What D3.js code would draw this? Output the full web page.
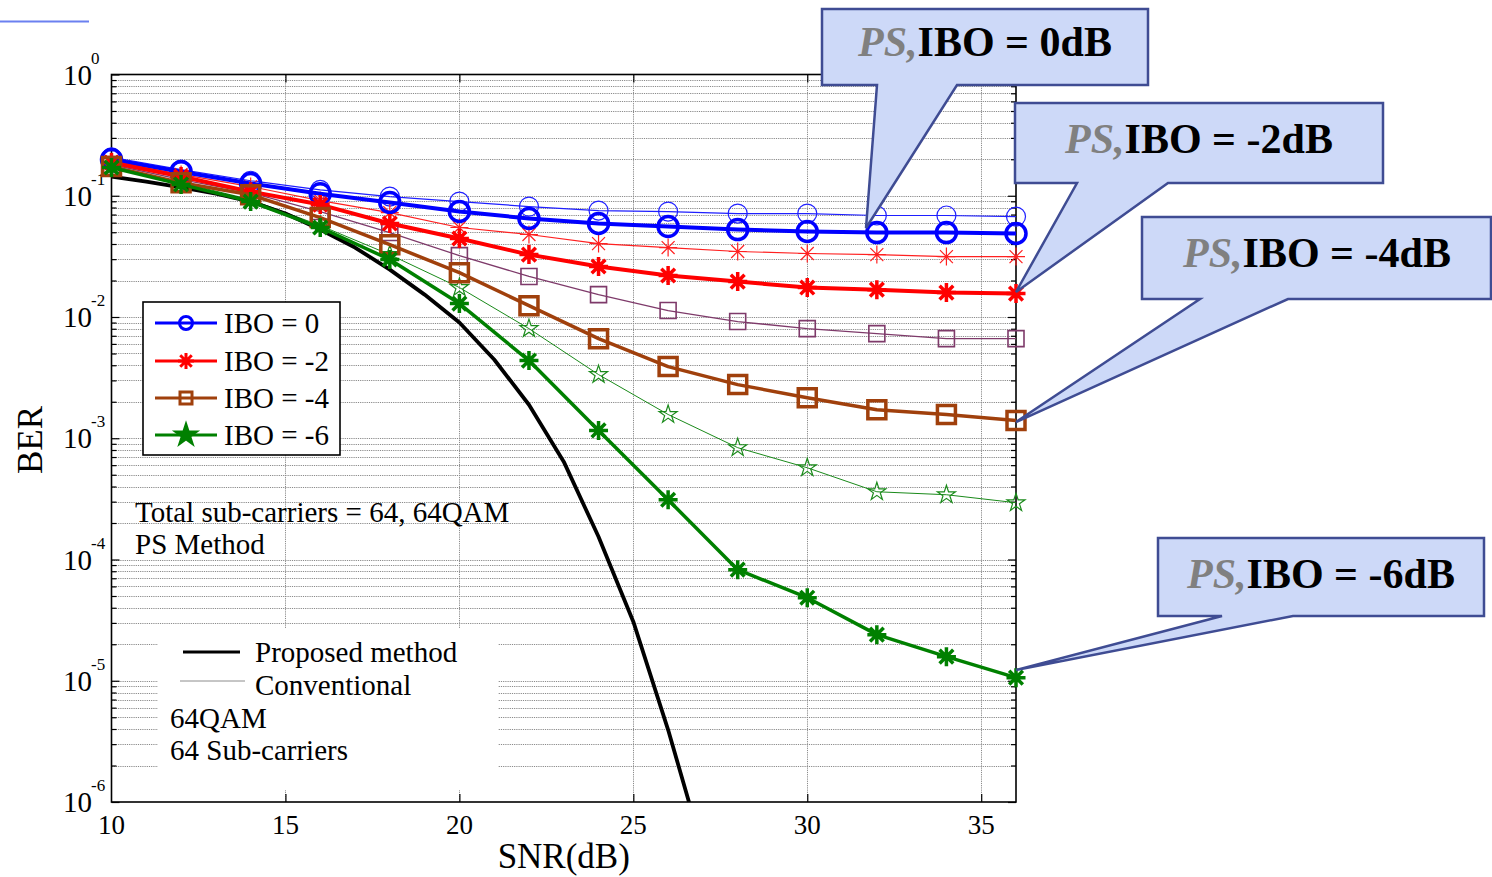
<!DOCTYPE html>
<html>
<head>
<meta charset="utf-8">
<script src="https://cdn.jsdelivr.net/npm/d3@7"></script>
<style>
  html, body { margin: 0; padding: 0; background: #fff; }
  svg { display: block; font-family: "Liberation Serif", "Times New Roman", serif; }
</style>
</head>
<body>
<svg id="chart" width="1492" height="877"></svg>
<script>
/* ---------- data ---------- */
const snrPts = [10, 12, 14, 16, 18, 20, 22, 24, 26, 28, 30, 32, 34, 36];

// thick lines = PS method, thin lines = conventional
const ibo0Ps   = [0.199, 0.158, 0.126, 0.104, 0.0879, 0.0741, 0.0649, 0.0590, 0.0557, 0.0526, 0.0507, 0.0497, 0.0497, 0.0488];
const ibo0Conv = [0.207, 0.164, 0.133, 0.112, 0.0985, 0.0895, 0.0814, 0.0755, 0.0741, 0.0713, 0.0713, 0.0687, 0.0687, 0.0673];
const ibo2Ps   = [0.188, 0.144, 0.108, 0.0846, 0.0590, 0.0444, 0.0327, 0.0261, 0.0220, 0.0196, 0.0175, 0.0168, 0.0159, 0.0156];
const ibo2Conv = [0.191, 0.150, 0.119, 0.0913, 0.0727, 0.0547, 0.0479, 0.0403, 0.0374, 0.0347, 0.0334, 0.0327, 0.0315, 0.0315];
const ibo4Ps   = [0.174, 0.128, 0.102, 0.0661, 0.0395, 0.0232, 0.0124, 0.00663, 0.00390, 0.00277, 0.00216, 0.00172, 0.00157, 0.00140];
const ibo4Conv = [0.181, 0.136, 0.106, 0.0741, 0.0497, 0.0321, 0.0216, 0.0153, 0.0113, 0.00917, 0.00802, 0.00729, 0.00663, 0.00663];
const ibo6Ps   = [0.171, 0.124, 0.0895, 0.0547, 0.0298, 0.0129, 0.00437, 0.00116, 3.11e-4, 8.24e-5, 4.84e-5, 2.40e-5, 1.58e-5, 1.06e-5];
const ibo6Conv = [0.174, 0.128, 0.0930, 0.0568, 0.0327, 0.0175, 0.00802, 0.00335, 0.00157, 8.36e-4, 5.71e-4, 3.62e-4, 3.42e-4, 2.94e-4];

// proposed method, 1 dB steps, no markers
const snrFine = [10, 11, 12, 13, 14, 15, 16, 17, 18, 19, 20, 21, 22, 23, 24, 25, 26, 27];
const proposedBer = [0.144, 0.131, 0.117, 0.104, 0.0895, 0.0713, 0.0526, 0.0374, 0.0246, 0.0153, 0.0090, 0.00446, 0.00189, 6.41e-4, 1.54e-4, 3.07e-5, 3.94e-6, 4.0e-7];

const xTicks = [10, 15, 20, 25, 30, 35];
const yExps = [0, -1, -2, -3, -4, -5, -6];

const legendLabels = ['IBO = 0', 'IBO = -2', 'IBO = -4', 'IBO = -6'];
const calloutLabels = ['IBO = 0dB', 'IBO = -2dB', 'IBO = -4dB', 'IBO = -6dB'];
const infoLines = ['Total sub-carriers = 64, 64QAM', 'PS Method'];
const legend2Labels = ['Proposed method', 'Conventional'];
const legend2Notes = ['64QAM', '64 Sub-carriers'];

/* ---------- scales ---------- */
const svg = d3.select('#chart');
const L = 111.5, R = 1016, T = 74.5, B = 802;
const x = d3.scaleLinear().domain([10, 36]).range([L, R]);
const y = d3.scaleLog().domain([1e-6, 1]).range([B, T]);

// minor + major positions for a log axis
const majorY = yExps.map(e => Math.pow(10, e));
const minorY = [];
for (let e = -6; e < 0; e++) for (let m = 2; m <= 9; m++) minorY.push(m * Math.pow(10, e));

/* ---------- grid ---------- */
const grid = svg.append('g').attr('class', 'grid')
  .attr('stroke', '#8a8a8a').attr('stroke-width', 1).attr('stroke-dasharray', '1.2,1');
grid.selectAll('line.h')
  .data(minorY.concat(majorY.slice(1, -1)))
  .join('line').attr('class', 'h')
  .attr('x1', L).attr('x2', R)
  .attr('y1', d => Math.round(y(d)) + 0.5).attr('y2', d => Math.round(y(d)) + 0.5);
grid.selectAll('line.v')
  .data(xTicks.slice(1))
  .join('line').attr('class', 'v')
  .attr('x1', d => Math.round(x(d)) + 0.5).attr('x2', d => Math.round(x(d)) + 0.5)
  .attr('y1', T).attr('y2', B);

// white patch behind the lower-left note block
svg.append('rect').attr('x', 158).attr('y', 628).attr('width', 340).attr('height', 162).attr('fill', '#fff');

/* ---------- axes (inward ticks) ---------- */
function tickAxis(axisFn, scale, vals, size, tf) {
  const g = svg.append('g').attr('transform', tf)
    .call(axisFn(scale).tickValues(vals).tickSizeInner(size).tickSizeOuter(0).tickFormat(''));
  g.select('.domain').remove();
  g.selectAll('line').attr('stroke', '#000').attr('stroke-width', 1.2);
}
tickAxis(d3.axisLeft, y, majorY, -8, `translate(${L},0)`);
tickAxis(d3.axisLeft, y, minorY, -5, `translate(${L},0)`);
tickAxis(d3.axisRight, y, majorY, -8, `translate(${R},0)`);
tickAxis(d3.axisRight, y, minorY, -5, `translate(${R},0)`);
tickAxis(d3.axisBottom, x, xTicks.slice(1), -8, `translate(0,${B})`);
tickAxis(d3.axisTop, x, xTicks.slice(1), -8, `translate(0,${T})`);

svg.append('rect').attr('x', L).attr('y', T).attr('width', R - L).attr('height', B - T)
  .attr('fill', 'none').attr('stroke', '#000').attr('stroke-width', 1.6);

// tick labels
svg.append('g').selectAll('text').data(xTicks).join('text')
  .attr('x', d => x(d)).attr('y', 834).attr('text-anchor', 'middle')
  .attr('font-size', 27).text(d => d);

const yl = svg.append('g').selectAll('g').data(yExps).join('g');
yl.append('text').attr('x', 63).attr('y', d => y(Math.pow(10, d)) + 10)
  .attr('font-size', 29).text('10');
yl.append('text').attr('x', 91).attr('y', d => y(Math.pow(10, d)) - 11)
  .attr('font-size', 17).text(d => d);

svg.append('text').attr('x', (L + R) / 2).attr('y', 868).attr('text-anchor', 'middle')
  .attr('font-size', 35).text('SNR(dB)');
svg.append('text').attr('transform', 'translate(42,440) rotate(-90)').attr('text-anchor', 'middle')
  .attr('font-size', 35).text('BER');

/* ---------- markers ---------- */
function asterisk(s) {
  const d = s * 0.72;
  return `M${-s},0L${s},0M0,${-s}L0,${s}M${-d},${-d}L${d},${d}M${-d},${d}L${d},${-d}`;
}
function markerPath(type, s) {
  if (type === 'asterisk') return asterisk(s);
  if (type === 'circle') return d3.symbol(d3.symbolCircle, Math.PI * s * s)();
  if (type === 'square') return d3.symbol(d3.symbolSquare, 4 * s * s)();
  if (type === 'star') return d3.symbol(d3.symbolStar, s * s / 0.8908)();
}

const series = [
  { vals: ibo0Conv, color: '#1f1fff', w: 1.2, marker: 'circle',   s: 9.5, mw: 1.2 },
  { vals: ibo2Conv, color: '#ff2020', w: 1.2, marker: 'asterisk', s: 9,   mw: 1.2 },
  { vals: ibo4Conv, color: '#7e3a6a', w: 1.3, marker: 'square',   s: 8,   mw: 1.6 },
  { vals: ibo6Conv, color: '#1a8a1a', w: 1.0, marker: 'star',     s: 9.5, mw: 1.2 },
  { vals: ibo0Ps,   color: '#0000ff', w: 4,   marker: 'circle',   s: 10,  mw: 3.5 },
  { vals: ibo2Ps,   color: '#ff0000', w: 4,   marker: 'asterisk', s: 9.5, mw: 3.5 },
  { vals: ibo4Ps,   color: '#a0400c', w: 3.5, marker: 'square',   s: 9,   mw: 3.5 },
  { vals: ibo6Ps,   color: '#008000', w: 3.5, marker: 'asterisk', s: 9.5, mw: 3.5 },
];

svg.append('clipPath').attr('id', 'plotclip')
  .append('rect').attr('x', L).attr('y', T).attr('width', R - L).attr('height', B - T);

const line = d3.line().x(d => x(d[0])).y(d => y(d[1]));

// thin (conventional) first
series.slice(0, 4).forEach(drawSeries);

svg.append('path')
  .datum(d3.zip(snrFine, proposedBer))
  .attr('clip-path', 'url(#plotclip)')
  .attr('fill', 'none').attr('stroke', '#000').attr('stroke-width', 3.8)
  .attr('stroke-linejoin', 'round')
  .attr('d', line);

series.slice(4).forEach(drawSeries);

function drawSeries(s) {
  const pts = d3.zip(snrPts, s.vals);
  const g = svg.append('g');
  g.append('path').datum(pts)
    .attr('fill', 'none').attr('stroke', s.color).attr('stroke-width', s.w)
    .attr('stroke-linejoin', 'round').attr('d', line);
  g.selectAll('path.m').data(pts).join('path').attr('class', 'm')
    .attr('transform', d => `translate(${x(d[0])},${y(d[1])})`)
    .attr('d', markerPath(s.marker, s.s))
    .attr('fill', 'none').attr('stroke', s.color).attr('stroke-width', s.mw);
}

/* ---------- legend (IBO) ---------- */
const lg = svg.append('g');
lg.append('rect').attr('x', 143).attr('y', 302).attr('width', 197).attr('height', 153)
  .attr('fill', '#fff').attr('stroke', '#000').attr('stroke-width', 1.6);
const legendStyle = [
  { color: '#0000ff', marker: 'circle', s: 6.5, fill: 'none' },
  { color: '#ff0000', marker: 'asterisk', s: 8, fill: 'none' },
  { color: '#a0400c', marker: 'square', s: 6, fill: 'none' },
  { color: '#008000', marker: 'star', s: 10, fill: '#008000' },
];
const legendY = [323, 361, 398, 435];
legendLabels.forEach((lab, i) => {
  const st = legendStyle[i];
  lg.append('line').attr('x1', 155).attr('x2', 217).attr('y1', legendY[i]).attr('y2', legendY[i])
    .attr('stroke', st.color).attr('stroke-width', 3);
  lg.append('path').attr('transform', `translate(186,${legendY[i]})`)
    .attr('d', markerPath(st.marker, st.s))
    .attr('fill', st.fill).attr('stroke', st.color).attr('stroke-width', 3);
  lg.append('text').attr('x', 224).attr('y', legendY[i] + 10).attr('font-size', 29).text(lab);
});

/* ---------- notes ---------- */
svg.append('g').selectAll('text').data(infoLines).join('text')
  .attr('x', 135).attr('y', (d, i) => 522 + i * 32).attr('font-size', 29).text(d => d);

const l2 = svg.append('g');
l2.append('line').attr('x1', 183).attr('x2', 240).attr('y1', 652).attr('y2', 652)
  .attr('stroke', '#000').attr('stroke-width', 3);
l2.append('line').attr('x1', 180).attr('x2', 245).attr('y1', 681).attr('y2', 681)
  .attr('stroke', '#8c8c8c').attr('stroke-width', 1);
legend2Labels.forEach((t, i) => {
  l2.append('text').attr('x', 255).attr('y', 662 + i * 33).attr('font-size', 29).text(t);
});
legend2Notes.forEach((t, i) => {
  l2.append('text').attr('x', 170).attr('y', 728 + i * 32).attr('font-size', 29).text(t);
});

/* ---------- callouts ---------- */
const callouts = [
  { box: [822, 9, 1148, 85],    base: [877, 957],   tip: [866, 228], tx: 985,  ty: 56 },
  { box: [1015, 103, 1383, 183], base: [1077, 1168], tip: [1016, 292], tx: 1199, ty: 153 },
  { box: [1142, 217, 1491, 299], base: [1200, 1288], tip: [1016, 422], tx: 1317, ty: 267 },
  { box: [1158, 538, 1484, 616], base: [1222, 1293], tip: [1016, 670], tx: 1321, ty: 588 },
];
callouts.forEach((c, i) => {
  const [x0, y0, x1, y1] = c.box;
  const p = d3.path();
  p.moveTo(x0, y0); p.lineTo(x1, y0); p.lineTo(x1, y1);
  p.lineTo(c.base[1], y1); p.lineTo(c.tip[0], c.tip[1]); p.lineTo(c.base[0], y1);
  p.lineTo(x0, y1); p.closePath();
  svg.append('path').attr('d', p.toString())
    .attr('fill', '#cdd9f8').attr('stroke', '#3f4c93').attr('stroke-width', 2.5)
    .attr('stroke-linejoin', 'miter');
  const t = svg.append('text').attr('x', c.tx).attr('y', c.ty).attr('text-anchor', 'middle')
    .attr('font-size', 42).attr('font-weight', 'bold');
  t.append('tspan').attr('fill', '#808080').attr('font-style', 'italic').text('PS,');
  t.append('tspan').attr('fill', '#000').text(calloutLabels[i]);
});

// short blue stroke in the top-left corner
svg.append('line').attr('x1', 0).attr('x2', 89).attr('y1', 21.5).attr('y2', 21.5)
  .attr('stroke', '#6b80f0').attr('stroke-width', 2);
</script>
</body>
</html>
